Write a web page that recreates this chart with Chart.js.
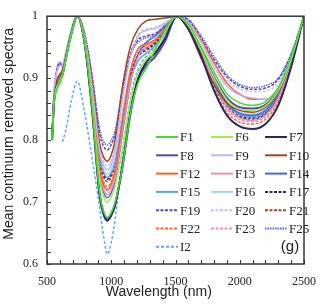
<!DOCTYPE html>
<html>
<head>
<meta charset="utf-8">
<script src="https://cdn.jsdelivr.net/npm/chart.js@4.4.1/dist/chart.umd.min.js"></script>
<style>
  html, body { margin: 0; padding: 0; background: #fff; }
  #wrap { width: 327px; height: 304px; }
</style>
</head>
<body>
<div id="wrap"><canvas id="spectra" width="327" height="304"></canvas></div>
<script>
// sampled wavelengths (nm), shared by every series
const wavelength = [540, 555, 575, 600, 620, 645, 690, 735, 790, 850, 910, 940, 970, 1000, 1030, 1090, 1150, 1210, 1270, 1340, 1420, 1510, 1600, 1700, 1800, 1900, 2000, 2100, 2200, 2300, 2400, 2500];

// labelled ticks
const xLabels = [500, 1000, 1500, 2000, 2500];
const yLabels = [0.6, 0.7, 0.8, 0.9, 1];

const seriesNames = ["F1", "F6", "F7", "F8", "F9", "F10", "F12", "F13", "F14", "F15", "F16", "F17", "F19", "F20", "F21", "F22", "F23", "F25", "I2"];

// mean continuum removed values
const F1  = [0.800, 0.860, 0.880, 0.892, 0.903, 0.928, 0.971, 1.000, 0.961, 0.854, 0.714, 0.685, 0.675, 0.683, 0.700, 0.760, 0.845, 0.893, 0.915, 0.945, 0.978, 1.000, 0.987, 0.950, 0.910, 0.875, 0.860, 0.856, 0.862, 0.885, 0.935, 1.000];
const F6  = [0.802, 0.864, 0.885, 0.896, 0.906, 0.930, 0.972, 1.000, 0.964, 0.865, 0.736, 0.709, 0.700, 0.708, 0.725, 0.790, 0.865, 0.910, 0.930, 0.948, 0.975, 1.000, 0.985, 0.945, 0.900, 0.865, 0.850, 0.848, 0.855, 0.880, 0.930, 1.000];
const F7  = [0.800, 0.862, 0.886, 0.896, 0.905, 0.930, 0.972, 1.000, 0.960, 0.851, 0.710, 0.680, 0.670, 0.678, 0.695, 0.762, 0.848, 0.900, 0.925, 0.940, 0.965, 1.000, 0.980, 0.935, 0.880, 0.840, 0.822, 0.818, 0.826, 0.856, 0.918, 1.000];
const F8  = [0.801, 0.863, 0.887, 0.897, 0.906, 0.931, 0.973, 1.000, 0.961, 0.853, 0.712, 0.683, 0.673, 0.681, 0.697, 0.760, 0.843, 0.898, 0.920, 0.934, 0.960, 1.000, 0.985, 0.945, 0.902, 0.868, 0.853, 0.851, 0.857, 0.880, 0.930, 1.000];
const F9  = [0.812, 0.878, 0.908, 0.920, 0.920, 0.940, 0.978, 1.000, 0.970, 0.888, 0.782, 0.759, 0.752, 0.760, 0.785, 0.870, 0.935, 0.968, 0.977, 0.980, 0.988, 1.000, 0.990, 0.958, 0.918, 0.887, 0.873, 0.868, 0.866, 0.880, 0.928, 1.000];
const F10 = [0.806, 0.870, 0.895, 0.905, 0.912, 0.935, 0.975, 1.000, 0.972, 0.895, 0.794, 0.773, 0.766, 0.776, 0.800, 0.890, 0.952, 0.980, 0.992, 0.995, 0.997, 1.000, 0.978, 0.932, 0.890, 0.860, 0.848, 0.845, 0.853, 0.878, 0.930, 1.000];
const F12 = [0.805, 0.870, 0.895, 0.906, 0.912, 0.935, 0.975, 1.000, 0.966, 0.874, 0.754, 0.728, 0.720, 0.729, 0.750, 0.835, 0.912, 0.948, 0.955, 0.962, 0.980, 1.000, 0.990, 0.962, 0.925, 0.892, 0.874, 0.866, 0.866, 0.882, 0.930, 1.000];
const F13 = [0.806, 0.871, 0.896, 0.906, 0.913, 0.936, 0.975, 1.000, 0.965, 0.870, 0.747, 0.721, 0.712, 0.720, 0.740, 0.820, 0.895, 0.935, 0.952, 0.962, 0.980, 1.000, 0.984, 0.942, 0.892, 0.853, 0.836, 0.832, 0.840, 0.868, 0.925, 1.000];
const F14 = [0.805, 0.870, 0.894, 0.904, 0.911, 0.934, 0.974, 1.000, 0.965, 0.868, 0.742, 0.716, 0.707, 0.715, 0.735, 0.815, 0.893, 0.938, 0.957, 0.968, 0.983, 1.000, 0.985, 0.945, 0.898, 0.860, 0.843, 0.840, 0.848, 0.875, 0.930, 1.000];
const F15 = [0.804, 0.868, 0.893, 0.903, 0.910, 0.934, 0.974, 1.000, 0.969, 0.883, 0.771, 0.748, 0.740, 0.747, 0.762, 0.832, 0.898, 0.928, 0.940, 0.952, 0.972, 1.000, 0.986, 0.946, 0.897, 0.858, 0.841, 0.838, 0.846, 0.873, 0.928, 1.000];
const F16 = [0.806, 0.872, 0.897, 0.907, 0.914, 0.936, 0.975, 1.000, 0.969, 0.885, 0.776, 0.753, 0.745, 0.753, 0.772, 0.850, 0.915, 0.945, 0.958, 0.967, 0.982, 1.000, 0.987, 0.948, 0.900, 0.862, 0.845, 0.842, 0.850, 0.876, 0.930, 1.000];
const F17 = [0.804, 0.869, 0.894, 0.904, 0.911, 0.935, 0.975, 1.000, 0.968, 0.882, 0.769, 0.745, 0.737, 0.745, 0.765, 0.842, 0.905, 0.935, 0.945, 0.955, 0.975, 1.000, 0.983, 0.940, 0.890, 0.853, 0.837, 0.834, 0.842, 0.870, 0.926, 1.000];
const F19 = [0.810, 0.876, 0.912, 0.925, 0.918, 0.938, 0.977, 1.000, 0.974, 0.903, 0.810, 0.790, 0.784, 0.793, 0.810, 0.885, 0.940, 0.962, 0.968, 0.972, 0.985, 1.000, 0.994, 0.965, 0.930, 0.902, 0.887, 0.882, 0.884, 0.898, 0.938, 1.000];
const F20 = [0.814, 0.880, 0.914, 0.928, 0.922, 0.941, 0.978, 1.000, 0.971, 0.891, 0.787, 0.765, 0.758, 0.767, 0.790, 0.875, 0.940, 0.970, 0.979, 0.982, 0.990, 1.000, 0.993, 0.962, 0.925, 0.896, 0.883, 0.878, 0.879, 0.893, 0.935, 1.000];
const F21 = [0.805, 0.870, 0.895, 0.905, 0.912, 0.935, 0.975, 1.000, 0.968, 0.880, 0.765, 0.741, 0.733, 0.741, 0.760, 0.838, 0.905, 0.938, 0.948, 0.957, 0.977, 1.000, 0.982, 0.938, 0.890, 0.855, 0.839, 0.836, 0.844, 0.872, 0.927, 1.000];
const F22 = [0.805, 0.870, 0.895, 0.905, 0.912, 0.935, 0.975, 1.000, 0.967, 0.876, 0.758, 0.733, 0.725, 0.733, 0.752, 0.830, 0.900, 0.940, 0.952, 0.960, 0.978, 1.000, 0.980, 0.935, 0.884, 0.845, 0.829, 0.826, 0.834, 0.862, 0.922, 1.000];
const F23 = [0.806, 0.871, 0.896, 0.906, 0.913, 0.936, 0.975, 1.000, 0.966, 0.873, 0.752, 0.727, 0.718, 0.726, 0.745, 0.825, 0.898, 0.935, 0.948, 0.958, 0.978, 1.000, 0.983, 0.940, 0.890, 0.850, 0.833, 0.830, 0.838, 0.866, 0.924, 1.000];
const F25 = [0.810, 0.876, 0.910, 0.923, 0.918, 0.938, 0.977, 1.000, 0.975, 0.906, 0.817, 0.798, 0.792, 0.800, 0.815, 0.885, 0.937, 0.958, 0.965, 0.970, 0.985, 1.000, 0.995, 0.968, 0.935, 0.905, 0.890, 0.885, 0.888, 0.900, 0.940, 1.000];
const I2  = [null, null, null, null, 0.797, 0.815, 0.864, 0.895, 0.847, 0.772, 0.690, 0.645, 0.616, 0.635, 0.672, 0.780, 0.870, 0.915, 0.935, 0.950, 0.972, 1.000, 0.986, 0.946, 0.898, 0.860, 0.843, 0.840, 0.847, 0.874, 0.928, 1.000];

const seriesValues = [F1, F6, F7, F8, F9, F10, F12, F13, F14, F15, F16, F17, F19, F20, F21, F22, F23, F25, I2];

// line styles, same order as seriesNames
const seriesStyle = [
  { color: "#3ddc2e", dash: [] },
  { color: "#a2ec4a", dash: [] },
  { color: "#2c2866", dash: [], width: 2 },
  { color: "#5a48aa", dash: [], width: 2 },
  { color: "#c2b6ee", dash: [] },
  { color: "#a4441c", dash: [] },
  { color: "#ff5e2a", dash: [] },
  { color: "#ee8fb0", dash: [] },
  { color: "#4864ee", dash: [] },
  { color: "#5ea0f0", dash: [] },
  { color: "#a6d6f6", dash: [] },
  { color: "#2c2866", dash: [3, 1.5] },
  { color: "#5a48b8", dash: [3, 1.5] },
  { color: "#c8c0f4", dash: [3, 1.5] },
  { color: "#a4441c", dash: [3, 1.5] },
  { color: "#ff6222", dash: [3, 1.5] },
  { color: "#f090b0", dash: [3, 1.5] },
  { color: "#4f62ee", dash: [1.5, 1] },
  { color: "#62a8f6", dash: [3, 2] }
];

const datasets = seriesNames.map((name, i) => ({
  label: name,
  data: seriesValues[i].map((v, j) => ({ x: wavelength[j], y: v })),
  borderColor: seriesStyle[i].color,
  borderDash: seriesStyle[i].dash,
  borderWidth: seriesStyle[i].width || 1.5,
  fill: false,
  spanGaps: false
}));

const serif = "'Liberation Serif', 'DejaVu Serif', serif";
const sans = "'Liberation Sans', Arial, sans-serif";

// inner ticks, frame, titles and the in-plot legend
const decorations = {
  id: "decorations",
  afterDatasetsDraw(chart) {
    const { ctx, chartArea: a, scales } = chart;
    const x = scales.x, y = scales.y;
    ctx.save();
    ctx.strokeStyle = "#333";
    ctx.lineWidth = 1;
    ctx.setLineDash([]);
    ctx.beginPath();
    x.ticks.forEach(t => {
      const px = Math.round(x.getPixelForValue(t.value)) + 0.5;
      ctx.moveTo(px, a.bottom);
      ctx.lineTo(px, a.bottom - 4);
    });
    y.ticks.forEach(t => {
      const py = Math.round(y.getPixelForValue(t.value)) + 0.5;
      ctx.moveTo(a.left, py);
      ctx.lineTo(a.left + 4, py);
    });
    ctx.stroke();
    ctx.lineWidth = 1.5;
    ctx.strokeRect(a.left, a.top, a.right - a.left, a.bottom - a.top);

    // axis titles
    ctx.fillStyle = "#222";
    ctx.font = "14px " + sans;
    ctx.textAlign = "center";
    ctx.textBaseline = "middle";
    ctx.fillText("Wavelength (nm)", a.left + (a.right - a.left) * 0.435, 292);
    ctx.save();
    ctx.translate(9, a.top + (a.bottom - a.top) * 0.475);
    ctx.rotate(-Math.PI / 2);
    ctx.fillText("Mean continuum removed spectra", 0, 0);
    ctx.restore();

    // legend, three columns
    const colX = [156, 211, 265];
    ctx.font = "13px " + serif;
    ctx.textAlign = "left";
    chart.data.datasets.forEach((ds, i) => {
      const cx = colX[i % 3];
      const cy = 137 + Math.floor(i / 3) * 18.3;
      ctx.strokeStyle = ds.borderColor;
      ctx.lineWidth = 2;
      ctx.setLineDash(ds.borderDash);
      ctx.beginPath();
      ctx.moveTo(cx, cy);
      ctx.lineTo(cx + 22, cy);
      ctx.stroke();
      ctx.fillStyle = "#222";
      ctx.fillText(ds.label, cx + 24, cy + 1);
    });
    ctx.setLineDash([]);
    ctx.font = "15px " + sans;
    ctx.textAlign = "center";
    ctx.fillText("(g)", 290, 247);
    ctx.restore();
  }
};

new Chart(document.getElementById("spectra"), {
  type: "line",
  data: { datasets: datasets },
  options: {
    responsive: false,
    animation: false,
    layout: { padding: { top: 5, right: 15, left: 0, bottom: 0 } },
    plugins: { legend: { display: false }, tooltip: { enabled: false } },
    elements: {
      point: { radius: 0 },
      line: { cubicInterpolationMode: "monotone" }
    },
    scales: {
      x: {
        type: "linear",
        min: 500,
        max: 2500,
        grid: { display: false, drawTicks: false },
        border: { display: false },
        ticks: {
          stepSize: 100,
          autoSkip: false,
          maxRotation: 0,
          padding: 11,
          color: "#222",
          font: { family: serif, size: 12 },
          callback: v => (xLabels.includes(v) ? String(v) : "")
        },
        afterFit: s => { s.height = 40; }
      },
      y: {
        type: "linear",
        min: 0.6,
        max: 1,
        grid: { display: false, drawTicks: false },
        border: { display: false },
        ticks: {
          stepSize: 0.02,
          autoSkip: false,
          padding: 9,
          color: "#222",
          font: { family: serif, size: 12 },
          callback: v => {
            const hit = yLabels.find(t => Math.abs(t - v) < 1e-6);
            return hit === undefined ? "" : String(hit);
          }
        },
        afterFit: s => { s.width = 47; }
      }
    }
  },
  plugins: [decorations]
});
</script>
</body>
</html>
